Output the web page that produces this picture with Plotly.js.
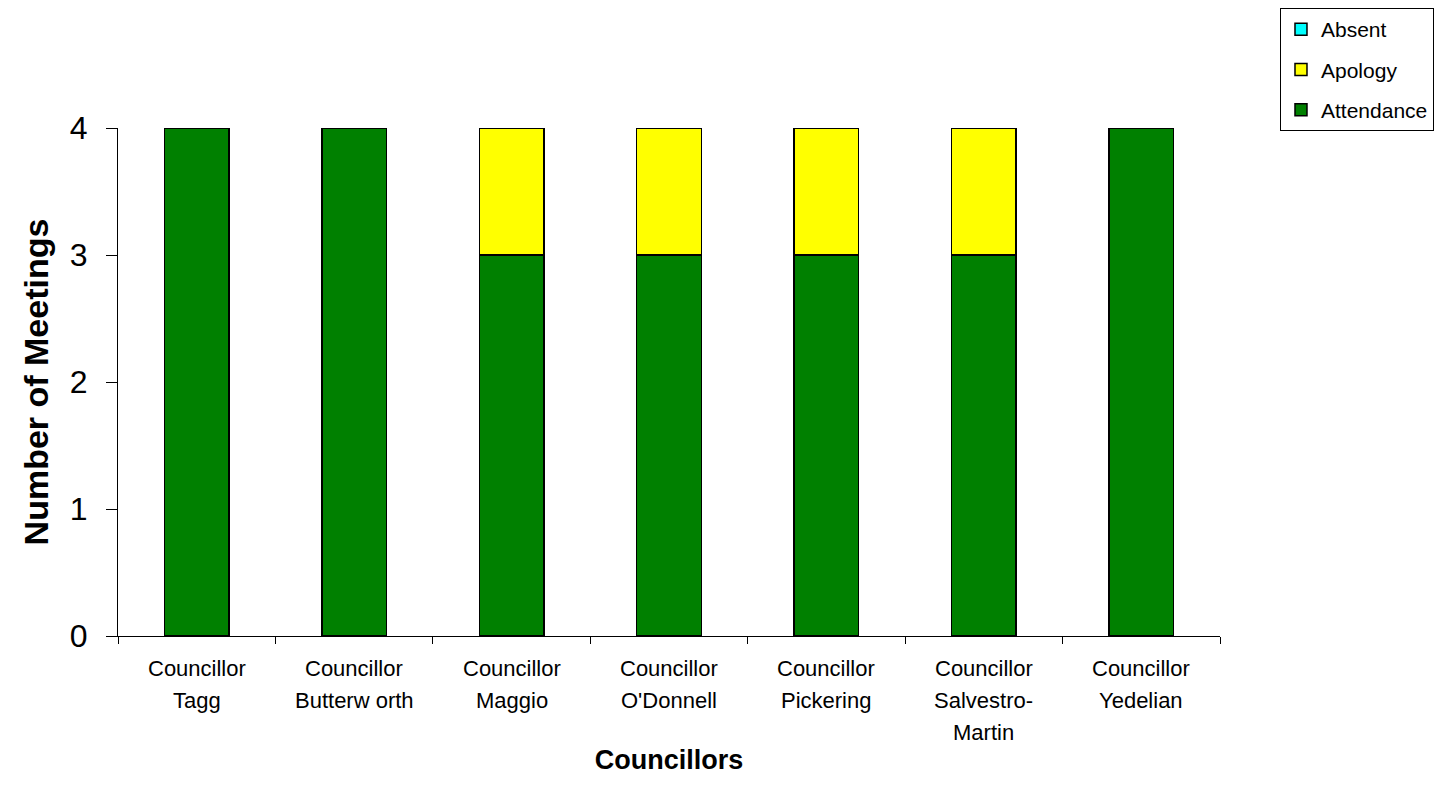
<!DOCTYPE html>
<html>
<head>
<meta charset="utf-8">
<script src="https://cdn.plot.ly/plotly-3.0.1.min.js"></script>
<style>html,body{margin:0;padding:0;background:#fff;}#chart{width:1434px;height:804px;}</style>
</head>
<body>
<div id="chart"></div>
<script>
var categories = ["Councillor Tagg", "Councillor Butterworth", "Councillor Maggio", "Councillor O'Donnell", "Councillor Pickering", "Councillor Salvestro-Martin", "Councillor Yedelian"];
var labelLines = [["Councillor", "Tagg"], ["Councillor", "Butterw orth"], ["Councillor", "Maggio"], ["Councillor", "O'Donnell"], ["Councillor", "Pickering"], ["Councillor", "Salvestro-", "Martin"], ["Councillor", "Yedelian"]];
var attendance = [4, 4, 3, 3, 3, 3, 4];
var apology = [0, 0, 1, 1, 1, 1, 0];
var absent = [0, 0, 0, 0, 0, 0, 0];
var yTicks = [0, 1, 2, 3, 4];

var font = "Liberation Sans, Arial, sans-serif";
var lineStyle = {color: "#000000", width: 1.5};

var traces = [
  {type: "bar", name: "Attendance", x: categories, y: attendance, legendgroup: "g3", legendrank: 3, marker: {color: "#008000", line: lineStyle}},
  {type: "bar", name: "Apology", x: categories, y: apology, legendgroup: "g2", legendrank: 2, marker: {color: "#FFFF00", line: lineStyle}},
  {type: "bar", name: "Absent", x: categories, y: absent, legendgroup: "g1", legendrank: 1, marker: {color: "#00FFFF", line: lineStyle}}
];

var annotations = [];
labelLines.forEach(function (lines, i) {
  lines.forEach(function (t, j) {
    annotations.push({
      text: t, x: categories[i], xref: "x", y: 0, yref: "paper",
      yanchor: "middle", xanchor: "center", yshift: -32 * (j + 1),
      showarrow: false, font: {family: font, size: 22, color: "#000"}
    });
  });
});

var layout = {
  width: 1434, height: 804,
  paper_bgcolor: "#ffffff", plot_bgcolor: "#ffffff",
  margin: {l: 118, r: 214, t: 128, b: 168},
  barmode: "stack",
  bargap: 0.59,
  font: {family: font, color: "#000"},
  xaxis: {
    type: "category",
    showticklabels: false,
    ticks: "outside", ticklen: 7, tickcolor: "#000", tickwidth: 1,
    tickson: "boundaries",
    showline: true, linecolor: "#000", linewidth: 1,
    showgrid: false, zeroline: false,
    title: {text: "<b>Councillors</b>", font: {family: font, size: 27, color: "#000"}, standoff: 114},
    automargin: false
  },
  yaxis: {
    range: [0, 4], tickvals: yTicks, ticktext: yTicks.map(String),
    ticks: "outside", ticklen: 11, tickcolor: "#000", tickwidth: 1,
    ticklabelstandoff: 12,
    tickfont: {family: font, size: 32, color: "#000"},
    showline: true, linecolor: "#000", linewidth: 1,
    showgrid: false, zeroline: false,
    title: {text: "<b>Number of Meetings</b>", font: {family: font, size: 34, color: "#000"}, standoff: 10},
    automargin: false
  },
  legend: {
    xref: "container", yref: "container",
    x: 0.8926, xanchor: "left", y: 0.990, yanchor: "top",
    bordercolor: "#000", borderwidth: 1, bgcolor: "#fff",
    font: {family: font, size: 21, color: "#000"},
    traceorder: "grouped", tracegroupgap: 10, itemwidth: 30
  },
  annotations: annotations,
  showlegend: true
};

Plotly.newPlot("chart", traces, layout, {displayModeBar: false, staticPlot: true});
</script>
</body>
</html>
